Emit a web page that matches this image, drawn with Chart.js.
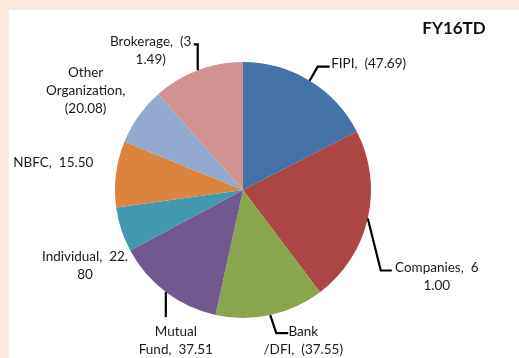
<!DOCTYPE html>
<html lang="en">
<head>
  <meta charset="UTF-8" />
  <title>FY16TD Pie</title>
  <script src="https://cdn.jsdelivr.net/npm/chart.js@4.4.0/dist/chart.umd.min.js"></script>
  <style>
    body { margin: 0; background: #fff; }
    canvas { display: block; }
  </style>
</head>
<body>
  <canvas id="pieChart" width="519" height="358"></canvas>

  <script>
    // net flows, negatives shown in brackets
    const categories = ['FIPI', 'Companies', 'Bank/DFI', 'Mutual Fund', 'NBFC', 'Individual', 'Other Organization', 'Brokerage'];
    const netFlows = [-47.69, 61.00, -37.55, 37.51, 15.50, 22.80, -20.08, -31.49];
    const sliceColors = ['#4572A7', '#AA4643', '#89A54E', '#71588F', '#4198AF', '#DB843D', '#93A9CF', '#D19392'];

    // where Excel wrapped each label (char index)
    const labelBreaks = [[], [13], [4], [6], [], [16], [5, 19], [14]];
    // label block centre, relative to the slice edge point (px)
    const labelOffsets = [[59, -17], [69, 58], [33, 26], [10, 49], [-68, -67], [-31, 92], [-53, -25], [-47, -20]];
    // leader line: elbow and end, relative to the slice edge point (px)
    const leaders = [
      [[8, -14], [20, -14]],
      [[13, 52], [24, 52]],
      [[6, 18], [18, 18]],
      [[0, 25], [0, 25]],
      null, null, null,
      [[0, -26], [-4, -26]]
    ];

    function labelText(i) {
      const v = netFlows[i];
      const num = v < 0 ? '(' + Math.abs(v).toFixed(2) + ')' : v.toFixed(2);
      const full = categories[i] + ',  ' + num;
      const lines = [];
      let start = 0;
      labelBreaks[i].forEach(b => { lines.push(full.slice(start, b).trim()); start = b; });
      lines.push(full.slice(start).trim());
      return lines;
    }

    const frame = {
      id: 'frame',
      beforeDraw(chart) {
        const c = chart.ctx;
        c.save();
        c.fillStyle = '#fce9dd';
        c.fillRect(0, 0, chart.width, chart.height);
        c.fillStyle = '#ffffff';
        c.fillRect(9, 10, chart.width - 9, chart.height - 10);
        c.restore();
      }
    };

    const pieLabels = {
      id: 'pieLabels',
      afterDraw(chart) {
        const c = chart.ctx;
        const arcs = chart.getDatasetMeta(0).data;
        c.save();
        arcs.forEach((arc, i) => {
          const mid = (arc.startAngle + arc.endAngle) / 2;
          const px = arc.x + Math.cos(mid) * arc.outerRadius;
          const py = arc.y + Math.sin(mid) * arc.outerRadius;

          if (leaders[i]) {
            c.strokeStyle = '#000';
            c.lineWidth = 2.2;
            c.beginPath();
            c.moveTo(px, py);
            c.lineTo(px + leaders[i][0][0], py + leaders[i][0][1]);
            c.lineTo(px + leaders[i][1][0], py + leaders[i][1][1]);
            c.stroke();
          }

          const lines = labelText(i);
          const lh = 18;
          const cx = px + labelOffsets[i][0];
          const cy = py + labelOffsets[i][1];
          c.font = '13.5px Lato';
          c.fillStyle = '#1a1a1a';
          c.textAlign = 'center';
          c.textBaseline = 'middle';
          lines.forEach((ln, k) => {
            c.fillText(ln, cx, cy + (k - (lines.length - 1) / 2) * lh);
          });
        });

        c.font = 'bold 17px Lato';
        c.fillStyle = '#111';
        c.textAlign = 'center';
        c.textBaseline = 'middle';
        c.fillText('FY16TD', 454, 29);
        c.restore();
      }
    };

    new Chart(document.getElementById('pieChart'), {
      type: 'pie',
      data: {
        labels: categories,
        datasets: [{
          data: netFlows.map(v => Math.abs(v)),
          backgroundColor: sliceColors,
          borderWidth: 0
        }]
      },
      options: {
        responsive: false,
        animation: false,
        layout: { padding: { left: 115, right: 148, top: 62, bottom: 40 } },
        plugins: {
          legend: { display: false },
          tooltip: { enabled: false }
        }
      },
      plugins: [frame, pieLabels]
    });
  </script>
</body>
</html>
